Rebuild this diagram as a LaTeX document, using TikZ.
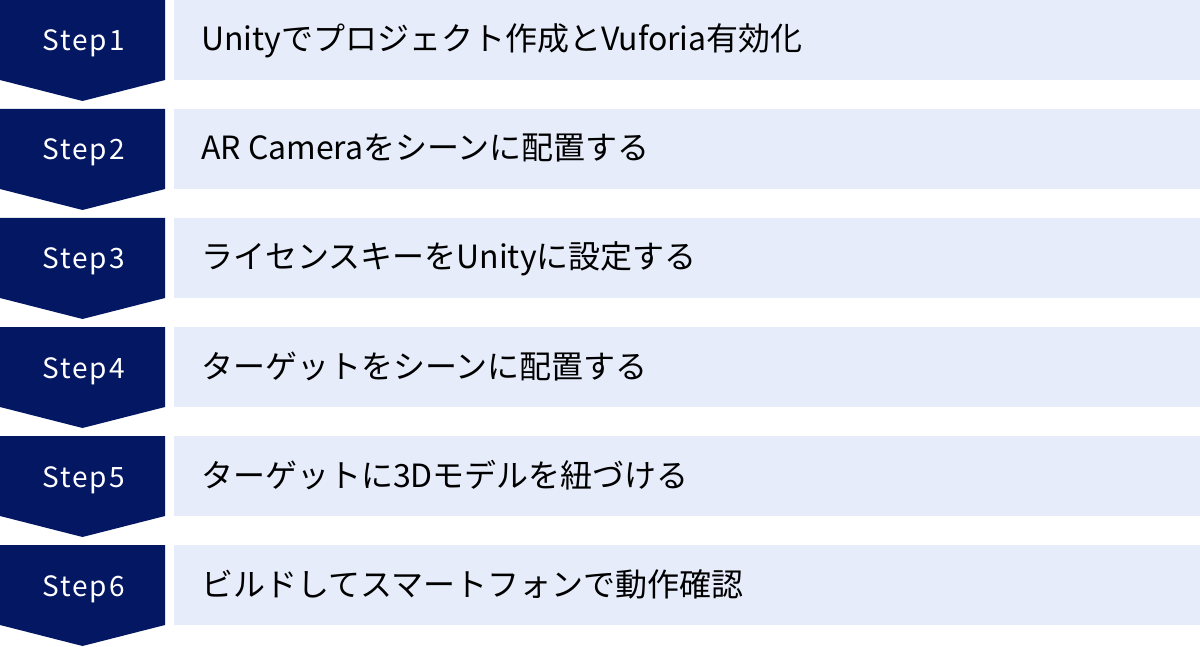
\documentclass[tikz,border=0pt]{standalone}
\usepackage{fontspec}
\setmainfont{Noto Sans CJK JP}
\newfontfamily\stepfont[LetterSpace=7]{Noto Sans CJK JP}
\usetikzlibrary{positioning}
\definecolor{stepnavy}{HTML}{041762}
\definecolor{tasklight}{HTML}{E6ECFA}

\begin{document}
\begin{tikzpicture}[x=1pt,y=1pt,
  steplabel/.style={text=white, inner sep=0, anchor=base, font=\stepfont\fontsize{28}{34}\selectfont},
  tasklabel/.style={text=black, inner sep=0, anchor=base west, font=\fontsize{32}{38}\selectfont}]
\useasboundingbox (0,0) rectangle (1200,-647);

\foreach \n/\task in {1/{Unityでプロジェクト作成とVuforia有効化},
                      2/{AR Cameraをシーンに配置する},
                      3/{ライセンスキーをUnityに設定する},
                      4/{ターゲットをシーンに配置する},
                      5/{ターゲットに3Dモデルを紐づける},
                      6/{ビルドしてスマートフォンで動作確認}} {
\pgfmathsetmacro\top{-(\n-1)*109}
\fill[stepnavy] (0,\top) -- (165,\top) -- (165,\top-80) -- (82.5,\top-101) -- (0,\top-80) -- cycle;
\fill[tasklight] (174,\top) rectangle (1200,\top-80);
\node[steplabel] (step\n) at (83.5,\top-51) {Step\n};
\node[tasklabel] (task\n) at (201,\top-51) {\task};
}

\end{tikzpicture}
\end{document}
